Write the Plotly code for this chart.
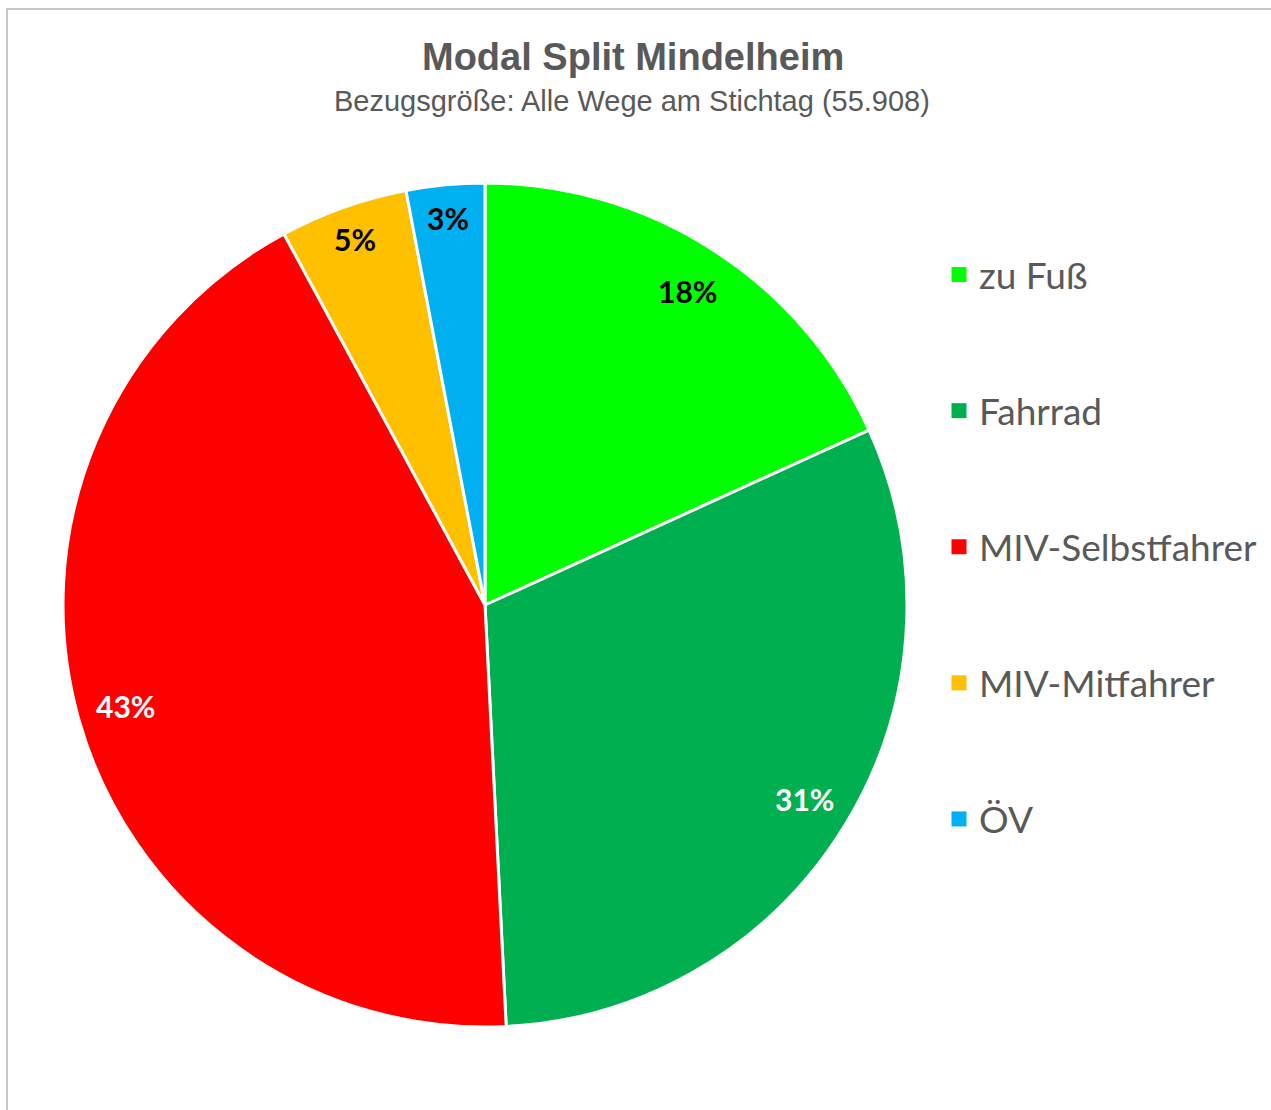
import math
import plotly.graph_objects as go

# ---- data ----
categories = ["zu Fuß", "Fahrrad", "MIV-Selbstfahrer", "MIV-Mitfahrer", "ÖV"]
shares = [18.2, 31.0, 42.9, 4.9, 3.0]
label_texts = ["18%", "31%", "43%", "5%", "3%"]
colors = ["#00FF00", "#00B050", "#FF0000", "#FFC000", "#00B0F0"]
label_colors = ["#000000", "#FFFFFF", "#FFFFFF", "#000000", "#000000"]

W, H = 1271, 1110
CX, CY, R = 485, 605, 422

fig = go.Figure()
fig.add_trace(go.Pie(
    labels=categories, values=shares, sort=False, direction="clockwise",
    rotation=0, textinfo="none", hoverinfo="label+percent",
    marker=dict(colors=colors, line=dict(color="#FFFFFF", width=3)),
    domain=dict(x=[(CX - R) / W, (CX + R) / W],
                y=[1 - (CY + R) / H, 1 - (CY - R) / H]),
    showlegend=False,
))

# legend entries via dummy traces (for spacing control)
for c, col in zip(categories, colors):
    fig.add_trace(go.Scatter(x=[None], y=[None], mode="markers", name=c,
                             legendgroup=c,
                             marker=dict(symbol="square", size=15, color=col)))

# data labels placed from cumulative shares
total = sum(shares)
cum = 0
annotations = []
for v, t, lc in zip(shares, label_texts, label_colors):
    mid = (cum + v / 2) / total * 2 * math.pi
    cum += v
    rr = R * (0.885 if v > 10 else 0.92)
    px = CX + rr * math.sin(mid)
    py = CY - rr * math.cos(mid)
    annotations.append(dict(x=px / W, y=1 - py / H, xref="paper", yref="paper",
                            xanchor="center", yanchor="middle",
                            text=f"<b>{t}</b>", showarrow=False,
                            font=dict(family="Lato", size=30, color=lc)))

annotations.append(dict(x=632 / W, y=1 - 101 / H, xref="paper", yref="paper",
                        xanchor="center", yanchor="middle",
                        text="Bezugsgröße: Alle Wege am Stichtag (55.908)",
                        showarrow=False,
                        font=dict(family="Liberation Sans", size=29, color="#595959")))
annotations.append(dict(x=633 / W, y=1 - 57 / H, xref="paper", yref="paper",
                        xanchor="center", yanchor="middle",
                        text="<b>Modal Split Mindelheim</b>",
                        showarrow=False,
                        font=dict(family="Liberation Sans", size=38, color="#595959")))

fig.update_layout(
    width=W, height=H,
    margin=dict(l=0, r=0, t=0, b=0),
    paper_bgcolor="#FFFFFF", plot_bgcolor="#FFFFFF",
    xaxis=dict(visible=False, domain=[0.95, 0.96]),
    yaxis=dict(visible=False, domain=[0.95, 0.96]),
    legend=dict(x=939 / W, y=1 - 244 / H, xanchor="left", yanchor="top",
                font=dict(family="Lato", size=37, color="#595959"),
                tracegroupgap=85, itemwidth=30, bgcolor="rgba(0,0,0,0)"),
    annotations=annotations,
    shapes=[dict(type="rect", xref="paper", yref="paper",
                 x0=7 / W, x1=1.05, y0=-0.05, y1=1 - 9 / H,
                 line=dict(color="#C8C8C8", width=2), fillcolor="rgba(0,0,0,0)",
                 layer="below")],
)

fig.write_html("out.html", config={"displayModeBar": False},
               post_script="document.body.style.margin='0';")
